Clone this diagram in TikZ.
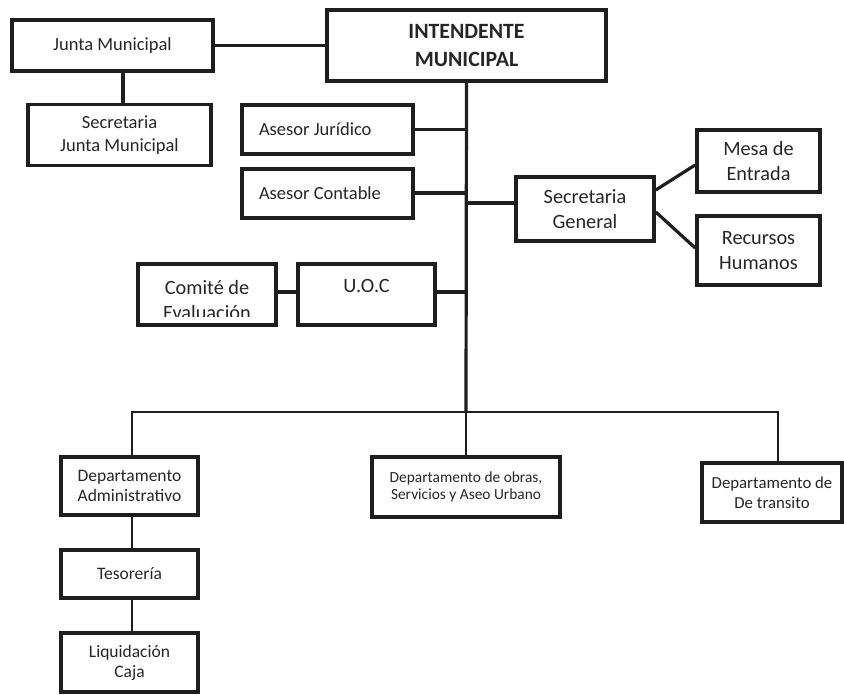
\documentclass[tikz,border=0pt]{standalone}
\usepackage{fontspec}
\setmainfont{Carlito}
\definecolor{ink}{HTML}{1E1E1E}
\definecolor{txt}{HTML}{262626}
\begin{document}
\begin{tikzpicture}[x=1pt,y=-1pt,
  box/.style={draw=ink, line width=3.6pt, rectangle, inner sep=0pt, align=center, text=txt},
  conn/.style={draw=ink, line width=3.2pt},
  thin/.style={draw=ink, line width=2.4pt},
  fA/.style={font=\fontsize{18.5}{23}\selectfont},
  fB/.style={font=\fontsize{20.3}{25}\selectfont},
  fC/.style={font=\fontsize{17.5}{20}\selectfont},
  fD/.style={font=\fontsize{15.4}{17.5}\selectfont},
]
\useasboundingbox[fill=white] (0,0) rectangle (844,695);

% nodes
\node[box,fA,minimum width=201,minimum height=51] (jm) at (112.5,45.5) {Junta Municipal};
\node[box,fA,minimum width=183,minimum height=61] (sjm) at (119.5,135) {Secretaria\\Junta Municipal};
\node[box,font=\bfseries\fontsize{21.8}{28}\selectfont,minimum width=279,minimum height=71] (int) at (466.5,45.5) {INTENDENTE\\MUNICIPAL};
\node[box,fA,minimum width=171,minimum height=49] (aj) at (327.5,129.5) {\makebox[137pt][l]{Asesor Jurídico}};
\node[box,fA,minimum width=171,minimum height=49] (ac) at (327.5,193.5) {\makebox[137pt][l]{Asesor Contable}};
\node[box,fB,minimum width=138,minimum height=64] (sg) at (585,209) {Secretaria\\General};
\node[box,fB,minimum width=123,minimum height=62] (me) at (758.5,161) {Mesa de\\Entrada};
\node[box,fB,minimum width=123,minimum height=69] (rh) at (758.5,250.5) {Recursos\\Humanos};
\node[box,minimum width=138,minimum height=61] (cmt) at (207,294.5) {};
\begin{scope}
  \clip (140,266) rectangle (274,317);
  \node[fB,text=txt,align=center,inner sep=0pt] (cmttxt) at (207,300) {Comité de\\Evaluación};
\end{scope}
\node[box,fB,minimum width=137,minimum height=61,text depth=17] (uoc) at (366.5,294.5) {U.O.C};
\node[box,fC,minimum width=137,minimum height=58] (da) at (129.5,486) {Departamento\\Administrativo};
\node[box,fC,minimum width=137,minimum height=48] (tes) at (129.5,574) {Tesorería};
\node[box,fC,minimum width=137,minimum height=59] (liq) at (129.5,662.5) {Liquidación\\Caja};
\node[box,fD,minimum width=188,minimum height=60] (obr) at (466,487) {Departamento de obras,\\Servicios y Aseo Urbano};
\node[box,font=\fontsize{16.8}{19.5}\selectfont,minimum width=140,minimum height=59] (tra) at (772,492.5) {Departamento de\\De transito};

\coordinate (bus) at (466,412);

% connectors
\draw[conn] (jm.east) -- (int.west);
\draw[conn] ([xshift=10.5pt]jm.south) -- ([xshift=3.5pt]sjm.north);
\draw[conn] (int.south) -- (bus);
\draw[thin] (bus) -- (obr.north);
\draw[conn] (aj.east) -- (aj.east -| int.south);
\draw[conn] ([yshift=0.5pt]ac.east) -- ([yshift=0.5pt]ac.east -| int.south);
\draw[conn] ([yshift=6pt]sg.west) -- ([yshift=6pt]sg.west -| int.south);
\draw[conn] ([yshift=2.5pt]uoc.east) -- ([yshift=2.5pt]uoc.east -| int.south);
\draw[conn] ([yshift=2.5pt]cmt.east) -- ([yshift=2.5pt]uoc.west);
\draw[conn] ([yshift=19pt]sg.east) -- ([yshift=-4pt]me.west);
\draw[conn] ([yshift=-3pt]sg.east) -- ([yshift=2.5pt]rh.west);
\draw[thin] ([xshift=2.5pt]da.north) |- (bus) -| ([xshift=6pt]tra.north);
\draw[thin] ([xshift=2.5pt]da.south) -- ([xshift=2.5pt]tes.north);
\draw[thin] ([xshift=2.5pt]tes.south) -- ([xshift=2.5pt]liq.north);
\end{tikzpicture}
\end{document}
